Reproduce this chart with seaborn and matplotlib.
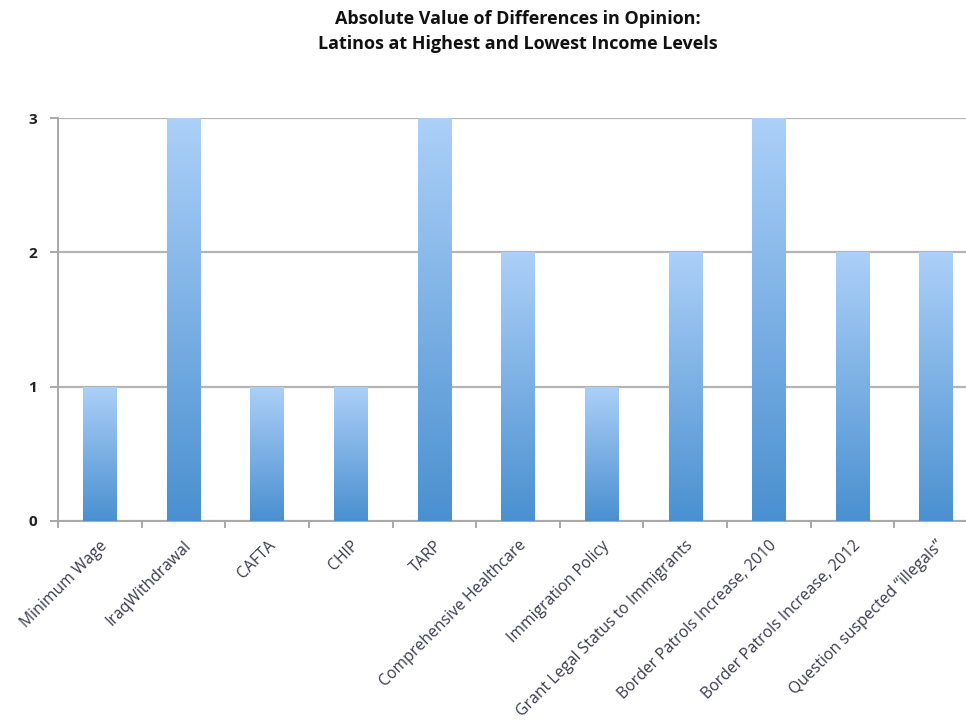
import numpy as np
import pandas as pd
import matplotlib
matplotlib.use("Agg")
import matplotlib.pyplot as plt
from matplotlib.colors import LinearSegmentedColormap
import seaborn as sns

categories = ["Minimum Wage", "IraqWithdrawal", "CAFTA", "CHIP", "TARP",
              "Comprehensive Healthcare", "Immigration Policy",
              "Grant Legal Status to Immigrants", "Border Patrols Increase, 2010",
              "Border Patrols Increase, 2012", "Question suspected \u201cillegals\u201d"]
values = [1, 3, 1, 1, 3, 2, 1, 2, 3, 2, 2]
y_ticks = [0, 1, 2, 3]

sns.set_theme(style="white")
plt.rcParams['font.family'] = ['Open Sans', 'DejaVu Sans']

fig = plt.figure(figsize=(9.66, 7.25), dpi=100)
ax = fig.add_axes([58/966, (725-521)/725, 920/966, 403/725])

df = pd.DataFrame({"cat": categories, "val": values})
sns.barplot(data=df, x="cat", y="val", ax=ax, width=0.4, color="#5b9bd5",
            edgecolor="none", linewidth=0, zorder=3)

cmap = LinearSegmentedColormap.from_list("g", ["#4a90d0", "#acd0f8"])
grad = np.linspace(0, 1, 256).reshape(-1, 1)
for p in list(ax.patches):
    x, y0 = p.get_x(), p.get_y()
    w, h = p.get_width(), p.get_height()
    im = ax.imshow(grad, extent=[x, x + w, y0, y0 + h], origin="lower",
                   cmap=cmap, aspect="auto", zorder=3)
    im.set_clip_path(p)
    p.set_facecolor("none")

ax.set_xlim(-0.5, 10.5)
ax.set_ylim(0, 3)
ax.set_yticks(y_ticks)
ax.set_yticklabels([str(t) for t in y_ticks], fontweight="bold", fontsize=11, color="#222222")
ax.yaxis.grid(True, color="#b4b4b4", linewidth=1.6, zorder=0)
ax.set_axisbelow(True)

for s in ["top", "right"]:
    ax.spines[s].set_visible(False)
for s in ["left", "bottom"]:
    ax.spines[s].set_color("#a8a8a8")
    ax.spines[s].set_linewidth(1.4)

ax.tick_params(axis="y", which="major", length=6, width=1.4, color="#a8a8a8",
               direction="out", left=True, pad=9)
ax.set_xticks(np.arange(len(categories)))
ax.set_xticklabels(categories, rotation=45, ha="right", rotation_mode="anchor",
                   fontsize=11.3, color="#3a3a50")
ax.tick_params(axis="x", which="major", length=0, pad=12)
ax.set_xticks(np.arange(len(categories)) - 0.5, minor=True)
ax.tick_params(axis="x", which="minor", length=5, width=1.4, color="#a8a8a8",
               direction="out", bottom=True)
ax.set_xlabel("")
ax.set_ylabel("")

fig.text(518/966, 1 - 19/725, "Absolute Value of Differences in Opinion:",
         ha="center", va="center", fontsize=13, fontweight="bold", color="#111111")
fig.text(518/966, 1 - 44/725, "Latinos at Highest and Lowest Income Levels",
         ha="center", va="center", fontsize=13, fontweight="bold", color="#111111")

fig.savefig("out.png", dpi=100)
